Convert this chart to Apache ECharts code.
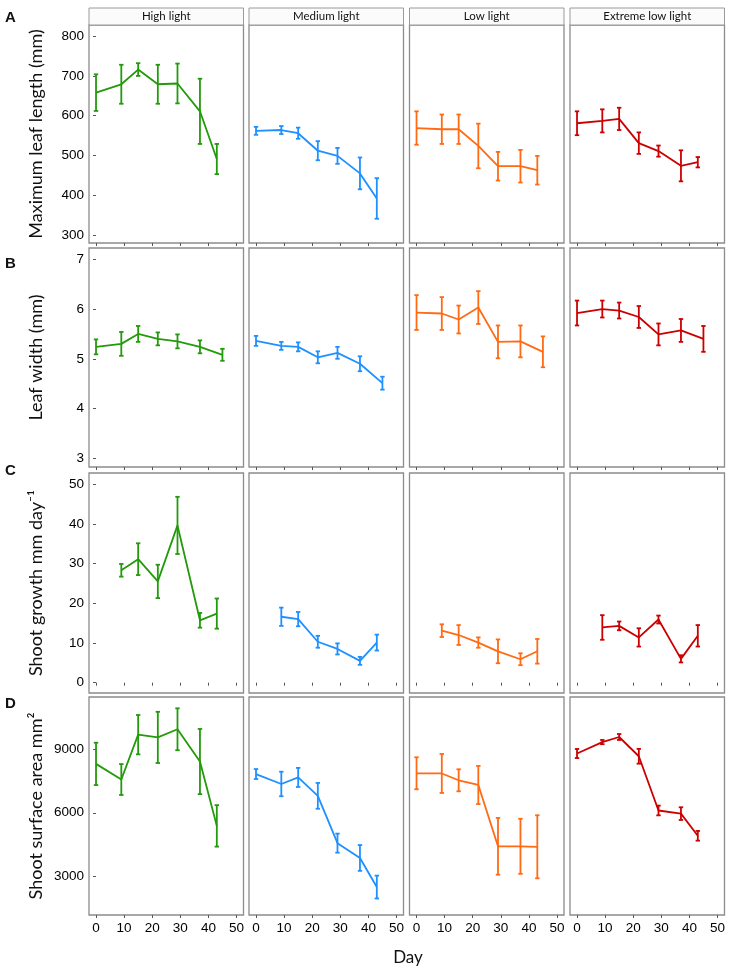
<!DOCTYPE html>
<html>
<head>
<meta charset="utf-8">
<script src="https://cdn.jsdelivr.net/npm/echarts@6/dist/echarts.min.js"></script>
<style>
html,body{margin:0;padding:0;background:#fff;}
#chart{width:729px;height:976px;}
</style>
</head>
<body>
<div id="chart"></div>
<script>
// ---------- data ----------
const treatments = ['High light', 'Medium light', 'Low light', 'Extreme low light'];
const dayTicks = [0, 10, 20, 30, 40, 50];

const daysLength = [0, 9, 15, 22, 29, 37, 43];
const daysWidth = [0, 9, 15, 22, 29, 37, 45];
const daysGrowth = [9, 15, 22, 29, 37, 43];
const daysArea = [0, 9, 15, 22, 29, 37, 43];

const lengthTicks = [300, 400, 500, 600, 700, 800];
const widthTicks = [3, 4, 5, 6, 7];
const growthTicks = [0, 10, 20, 30, 40, 50];
const areaTicks = [3000, 6000, 9000];

const lengthHigh = [658, 679, 716, 679, 681, 611, 491];
const lengthHighSE = [46, 49, 16, 49, 50, 82, 38];
const lengthMedium = [562, 564, 556, 512, 499, 455, 392];
const lengthMediumSE = [10, 10, 14, 24, 20, 40, 51];
const lengthLow = [569, 566, 566, 524, 473, 473, 463];
const lengthLowSE = [42, 37, 37, 56, 36, 41, 36];
const lengthExtreme = [581, 587, 592, 531, 511, 474, 483];
const lengthExtremeSE = [30, 29, 28, 27, 14, 39, 13];

const widthHigh = [5.24, 5.30, 5.50, 5.40, 5.35, 5.24, 5.08];
const widthHighSE = [0.15, 0.24, 0.16, 0.13, 0.14, 0.13, 0.12];
const widthMedium = [5.36, 5.26, 5.24, 5.03, 5.12, 4.90, 4.51];
const widthMediumSE = [0.10, 0.08, 0.09, 0.12, 0.12, 0.15, 0.13];
const widthLow = [5.93, 5.91, 5.79, 6.03, 5.34, 5.35, 5.14];
const widthLowSE = [0.35, 0.33, 0.28, 0.33, 0.33, 0.32, 0.31];
const widthExtreme = [5.92, 6.00, 5.97, 5.84, 5.49, 5.57, 5.40];
const widthExtremeSE = [0.25, 0.17, 0.16, 0.22, 0.22, 0.23, 0.26];

const growthHigh = [28.3, 31.1, 25.5, 39.6, 15.7, 17.4];
const growthHighSE = [1.6, 4.0, 4.2, 7.2, 1.85, 3.8];
const growthMedium = [16.6, 16.0, 10.3, 8.5, 5.5, 10.1];
const growthMediumSE = [2.3, 1.8, 1.5, 1.4, 1.0, 2.0];
const growthLow = [13.1, 12.0, 10.1, 7.9, 5.9, 7.9];
const growthLowSE = [1.6, 2.5, 1.3, 3.0, 1.5, 3.1];
const growthExtreme = [13.9, 14.3, 11.4, 15.9, 6.0, 11.8];
const growthExtremeSE = [3.1, 1.1, 2.3, 1.0, 0.9, 2.7];

const areaHigh = [8310, 7570, 9690, 9560, 9945, 8420, 5380];
const areaHighSE = [1000, 730, 930, 1210, 990, 1540, 980];
const areaMedium = [7830, 7360, 7670, 6800, 4565, 3866, 2490];
const areaMediumSE = [235, 580, 450, 610, 450, 610, 540];
const areaLow = [7866, 7857, 7535, 7313, 4416, 4416, 4393];
const areaLowSE = [755, 920, 520, 900, 1340, 1300, 1490];
const areaExtreme = [8800, 9340, 9580, 8670, 6108, 5960, 4912];
const areaExtremeSE = [215, 100, 140, 350, 230, 300, 230];

// ---------- layout / style ----------
const colors = ['#239a0b', '#1e90ff', '#ff6a13', '#cc0000'];
const colLeft = [89, 249, 409.5, 570];
const colWidth = 154.5;
const rowTop = [25, 248, 473, 697];
const rowHeight = [218, 219, 220, 218];
const letters = ['A', 'B', 'C', 'D'];
const letterY = [19, 265, 472, 705];

const rows = [
  { days: daysLength, means: [lengthHigh, lengthMedium, lengthLow, lengthExtreme],
    ses: [lengthHighSE, lengthMediumSE, lengthLowSE, lengthExtremeSE],
    min: 280, max: 828, ticks: lengthTicks, title: 'Maximum leaf length (mm)' },
  { days: daysWidth, means: [widthHigh, widthMedium, widthLow, widthExtreme],
    ses: [widthHighSE, widthMediumSE, widthLowSE, widthExtremeSE],
    min: 2.825, max: 7.227, ticks: widthTicks, title: 'Leaf width (mm)' },
  { days: daysGrowth, means: [growthHigh, growthMedium, growthLow, growthExtreme],
    ses: [growthHighSE, growthMediumSE, growthLowSE, growthExtremeSE],
    min: -2.6, max: 52.8, ticks: growthTicks, title: 'Shoot growth mm day\u207B\u00B9' },
  { days: daysArea, means: [areaHigh, areaMedium, areaLow, areaExtreme],
    ses: [areaHighSE, areaMediumSE, areaLowSE, areaExtremeSE],
    min: 1170, max: 11470, ticks: areaTicks, title: 'Shoot surface area mm\u00B2' }
];

const grid = [], xAxis = [], yAxis = [], series = [], graphic = [];
const plain = v => String(v);

rows.forEach((row, r) => {
  for (let c = 0; c < 4; c++) {
    const idx = r * 4 + c;
    grid.push({
      left: colLeft[c], top: rowTop[r], width: colWidth, height: rowHeight[r],
      show: true, borderColor: '#8c8c8c', borderWidth: 1.3, backgroundColor: '#fff'
    });
    xAxis.push({
      type: 'value', gridIndex: idx, min: -2.5, max: 52.5,
      splitLine: { show: false },
      axisLine: { show: false },
      axisTick: { show: true, customValues: dayTicks, length: 3, lineStyle: { color: '#555', width: 1 } },
      axisLabel: { show: r === 3, customValues: dayTicks, formatter: plain, fontSize: 13.5, color: '#000',
        fontFamily: 'Liberation Sans', margin: 6 }
    });
    yAxis.push({
      type: 'value', gridIndex: idx, min: row.min, max: row.max,
      splitLine: { show: false },
      axisLine: { show: false },
      axisTick: { show: c === 0, customValues: row.ticks, length: 3, lineStyle: { color: '#555', width: 1 } },
      axisLabel: { show: c === 0, customValues: row.ticks, formatter: plain, fontSize: 13.5, color: '#000',
        fontFamily: 'Liberation Sans', margin: 5 },
      name: c === 0 ? row.title : '',
      nameLocation: 'middle', nameGap: 44,
      nameTextStyle: { fontSize: 18, fontFamily: 'Lato', color: '#111' }
    });
    const col = colors[c];
    const mean = row.means[c], se = row.ses[c];
    series.push({
      type: 'line', xAxisIndex: idx, yAxisIndex: idx,
      data: row.days.map((d, i) => [d, mean[i]]),
      showSymbol: false, symbol: 'none', animation: false,
      lineStyle: { color: col, width: 1.8 }, z: 3
    });
    series.push({
      type: 'custom', xAxisIndex: idx, yAxisIndex: idx, animation: false,
      data: row.days.map((d, i) => [d, mean[i] - se[i], mean[i] + se[i]]),
      encode: { x: 0, y: [1, 2] },
      renderItem: function (params, api) {
        const x = api.value(0);
        const lo = api.coord([x, api.value(1)]);
        const hi = api.coord([x, api.value(2)]);
        const w = 2.2;
        const st = { stroke: col, lineWidth: 1.8 };
        return {
          type: 'group',
          children: [
            { type: 'line', shape: { x1: lo[0], y1: lo[1], x2: hi[0], y2: hi[1] }, style: st },
            { type: 'line', shape: { x1: lo[0] - w, y1: lo[1], x2: lo[0] + w, y2: lo[1] }, style: st },
            { type: 'line', shape: { x1: hi[0] - w, y1: hi[1], x2: hi[0] + w, y2: hi[1] }, style: st }
          ]
        };
      },
      z: 4
    });
  }
  graphic.push({
    type: 'text', left: 5, top: letterY[r] - 9,
    style: { text: letters[r], fontSize: 15, fontWeight: 'bold', fontFamily: 'Liberation Sans', fill: '#111' }
  });
});

// strip headers
treatments.forEach((t, c) => {
  graphic.push({
    type: 'rect', shape: { x: colLeft[c], y: 8, width: colWidth, height: 17 },
    style: { fill: '#fbfbfb', stroke: '#9a9a9a', lineWidth: 1 }
  });
  graphic.push({
    type: 'text', x: colLeft[c] + colWidth / 2, y: 16.5,
    style: { text: t, fontSize: 11.5, fontFamily: 'Lato', fill: '#111', align: 'center', verticalAlign: 'middle' }
  });
});
graphic.push({
  type: 'text', x: 408, y: 958,
  style: { text: 'Day', fontSize: 17, fontFamily: 'Lato', fill: '#111', align: 'center', verticalAlign: 'middle' }
});

const chart = echarts.init(document.getElementById('chart'), null, { renderer: 'canvas' });
chart.setOption({
  animation: false,
  backgroundColor: '#fff',
  grid, xAxis, yAxis, series, graphic
});
</script>
</body>
</html>
